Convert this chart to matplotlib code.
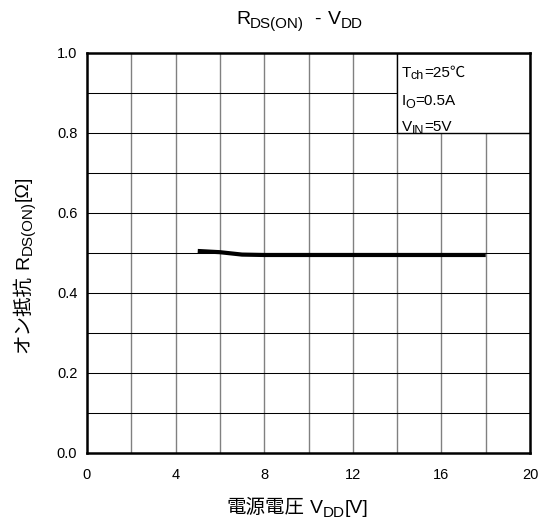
import matplotlib
matplotlib.use("Agg")
import matplotlib.pyplot as plt
from matplotlib.patches import Rectangle
from matplotlib.transforms import IdentityTransform
import numpy as np

FAM = ['Liberation Sans', 'Noto Sans CJK JP', 'DejaVu Sans']
plt.rcParams['font.family'] = FAM

# data
vdd = [5.0, 6.0, 7.0, 8.0, 10.0, 12.0, 14.0, 16.0, 18.0]
rds_on = [0.505, 0.502, 0.496, 0.495, 0.495, 0.495, 0.495, 0.495, 0.495]
x_ticks = [0, 4, 8, 12, 16, 20]
y_ticks = [0.0, 0.2, 0.4, 0.6, 0.8, 1.0]

DPI = 100
fig = plt.figure(figsize=(5.41, 5.24), dpi=DPI)
ax = fig.add_axes([0.1608, 0.1355, 0.8189, 0.7634])
ax.set_xlim(0, 20)
ax.set_ylim(0, 1.0)

# grid
for xv in np.arange(2, 20, 2):
    ax.axvline(xv, color='#808080', lw=1.0, zorder=1)
for yv in np.arange(0.1, 1.0, 0.1):
    ax.axhline(yv, color='#000000', lw=0.75, zorder=1)

ax.plot(vdd, rds_on, color='black', lw=3, zorder=4, solid_capstyle='butt')

ax.set_xticks(x_ticks)
ax.set_xticklabels([str(v) for v in x_ticks])
ax.set_yticks(y_ticks)
ax.set_yticklabels([f"{v:.1f}" for v in y_ticks])
ax.tick_params(axis='x', length=0, labelsize=10.5, pad=11)
ax.tick_params(axis='y', length=0, labelsize=10.5, pad=7)
for s in ax.spines.values():
    s.set_linewidth(1.8)
    s.set_zorder(5)

# condition box
ax.add_patch(Rectangle((14, 0.8), 6, 0.2, facecolor='white', edgecolor='black', lw=1.0, zorder=2))

renderer = fig.canvas.get_renderer()


def rich(x, y, pieces, size, rotation=0, sub_scale=0.78, sub_drop=0.2, zorder=6):
    """pieces: list of (text, kind) kind in 'n','s','g' (gap in em)."""
    px = size * DPI / 72.0
    a = np.deg2rad(rotation)
    d = (np.cos(a), np.sin(a))
    down = (np.sin(a), -np.cos(a))
    cx, cy = x, y
    for s, kind in pieces:
        if kind == 'g':
            cx += d[0] * s * px
            cy += d[1] * s * px
            continue
        sub = kind == 's'
        fs = size * (sub_scale if sub else 1.0)
        off = sub_drop * px if sub else 0.0
        t = fig.text(cx + down[0] * off, cy + down[1] * off, s, transform=IdentityTransform(),
                     fontsize=fs, ha='left', va='baseline', rotation=rotation,
                     rotation_mode='anchor', family=FAM, zorder=zorder)
        ext = t.get_window_extent(renderer)
        adv = ext.width if rotation == 0 else ext.height
        cx += d[0] * adv
        cy += d[1] * adv


H = 524
# title
rich(236, H - 24.3, [("R", 'n'), ("DS(ON)", 's'), (0.5, 'g'), ("-", 'n'), (0.4, 'g'),
                     ("V", 'n'), ("DD", 's')], 14)
# x label
rich(226, H - 513, [("電源電圧", 'n'), (0.3, 'g'), ("V", 'n'), ("DD", 's'), ("[V]", 'n')], 14)
# y label
rich(28, H - 353, [("オン抵抗", 'n'), (0.3, 'g'), ("R", 'n'), ("DS(ON)", 's'), ("[Ω]", 'n')],
     14, rotation=90)

# condition texts
cond = [([("T", 'n'), ("ch", 's'), ("=25℃", 'n')], 0.941),
        ([("I", 'n'), ("O", 's'), ("=0.5A", 'n')], 0.87),
        ([("V", 'n'), ("IN", 's'), ("=5V", 'n')], 0.805)]
for pieces, yv in cond:
    px_, py_ = ax.transData.transform((14.2, yv))
    rich(px_, py_, pieces, 11, sub_scale=0.82, sub_drop=0.18)

fig.savefig("out.png", dpi=DPI)
